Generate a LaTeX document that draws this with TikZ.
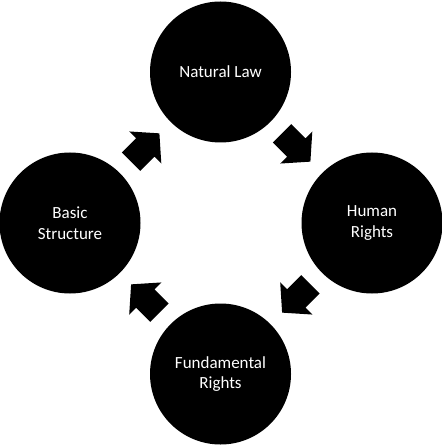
\documentclass[tikz,border=0pt]{standalone}
\usepackage{fontspec}
\setmainfont{Carlito}
\usetikzlibrary{calc}
\begin{document}
\begin{tikzpicture}[x=1bp,y=-1bp,
  circ/.style={circle, fill=black, minimum size=141bp, inner sep=0pt, text=white,
    align=center, font=\fontsize{17bp}{20.5bp}\selectfont},
  blockarrow/.pic={\fill[black] (-20,-13) -- (0,-13) -- (0,-22.7) -- (20,0) -- (0,22.7) -- (0,13) -- (-20,13) -- cycle;}]
\useasboundingbox (0,0) rectangle (442,445);
\node[circ] (nl) at (220.5,72) {Natural Law};
\node[circ] (hr) at (372,223) {Human\\Rights};
\node[circ] (fr) at (220.5,374) {Fundamental\\Rights};
\node[circ] (bs) at (70,223) {Basic\\Structure};
\path ($(bs.center)!0.5!(nl.center)$) pic[rotate=45] {blockarrow};
\path ($(nl.center)!0.5!(hr.center)$) pic[rotate=-45] {blockarrow};
\path ($(hr.center)!0.5!(fr.center)$) pic[rotate=-135] {blockarrow};
\path ($(fr.center)!0.5!(bs.center)$) pic[rotate=135] {blockarrow};
\end{tikzpicture}
\end{document}
